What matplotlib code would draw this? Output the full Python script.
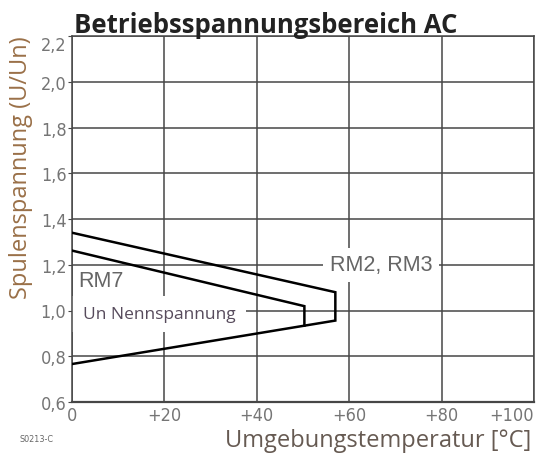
import matplotlib
matplotlib.use("Agg")
import matplotlib.pyplot as plt

# data
temp_outer = [0, 57, 57, 0]            # RM2, RM3 envelope
u_outer = [1.34, 1.08, 0.956, 0.766]
temp_inner = [0, 50.3, 50.3]           # RM7 envelope (joins lower edge)
u_inner = [1.262, 1.019, 0.934]

x_ticks = [0, 20, 40, 60, 80, 100]
x_tick_labels = ["0", "+20", "+40", "+60", "+80", "+100"]
y_ticks = [0.6, 0.8, 1.0, 1.2, 1.4, 1.6, 1.8, 2.0, 2.2]
y_tick_labels = ["0,6", "0,8", "1,0", "1,2", "1,4", "1,6", "1,8", "2,0", "2,2"]

GRID = "#464646"
TICK = "#757575"

fig = plt.figure(figsize=(5.44, 4.56), dpi=100)
ax = fig.add_axes([72 / 544, 1 - 403 / 456, 462 / 544, 366 / 456])

ax.plot(temp_outer, u_outer, color="black", lw=1.8, zorder=5, solid_joinstyle="miter")
ax.plot(temp_inner, u_inner, color="black", lw=1.8, zorder=5, solid_joinstyle="miter")

ax.set_xlim(0, 100)
ax.set_ylim(0.6, 2.2)
ax.set_xticks(x_ticks)
ax.set_xticklabels(x_tick_labels)
ax.set_yticks(y_ticks)
ax.set_yticklabels(y_tick_labels)
ax.grid(True, color=GRID, lw=1.1)
ax.set_axisbelow(True)
for s in ax.spines.values():
    s.set_color(GRID)
    s.set_linewidth(1.1)
    s.set_zorder(4)
ax.spines["bottom"].set_linewidth(1.6)

ax.tick_params(axis="both", length=0, colors=TICK, labelsize=13)
ax.tick_params(axis="y", length=3, color=GRID, pad=1)
ax.tick_params(axis="x", pad=3)
for lab in ax.get_xticklabels() + ax.get_yticklabels():
    lab.set_family("DejaVu Sans")
    lab.set_stretch("condensed")
ax.get_yticklabels()[-1].set_va("top")
ax.get_xticklabels()[-1].set_ha("right")

# curve labels
ax.text(66.9, 1.2, "RM2, RM3", ha="center", va="center", fontsize=15.5,
        family="Liberation Sans", color="#666666", zorder=3,
        bbox=dict(boxstyle="square,pad=0.3", fc="white", ec="none"))
ax.text(1.3, 1.129, "RM7", ha="left", va="center", fontsize=15.5,
        family="Liberation Sans", color="#666666", zorder=3)
ax.text(18.8, 0.985, "Un Nennspannung", ha="center", va="center", fontsize=12.5,
        family="Open Sans", color="#574b5c", zorder=3,
        bbox=dict(boxstyle="square,pad=0.6", fc="white", ec="none"))

fig.text(74 / 544, 1 - 33 / 456, "Betriebsspannungsbereich AC", ha="left",
         va="baseline", fontsize=18.5, fontweight="bold", family="Open Sans",
         color="#222222")
fig.text(225 / 544, 1 - 447 / 456, "Umgebungstemperatur [°C]", ha="left",
         va="baseline", fontsize=17, family="Open Sans", color="#665a52")
fig.text(21 / 544, 1 - 168 / 456, "Spulenspannung (U/Un)", ha="center",
         va="center", rotation=90, fontsize=17, family="Open Sans",
         color="#9a7048")
fig.text(20 / 544, 1 - 442 / 456, "S0213-C", ha="left", va="baseline",
         fontsize=6.5, family="DejaVu Sans", stretch="condensed",
         color="#666666")

fig.savefig("out.png", dpi=100, facecolor="white")
